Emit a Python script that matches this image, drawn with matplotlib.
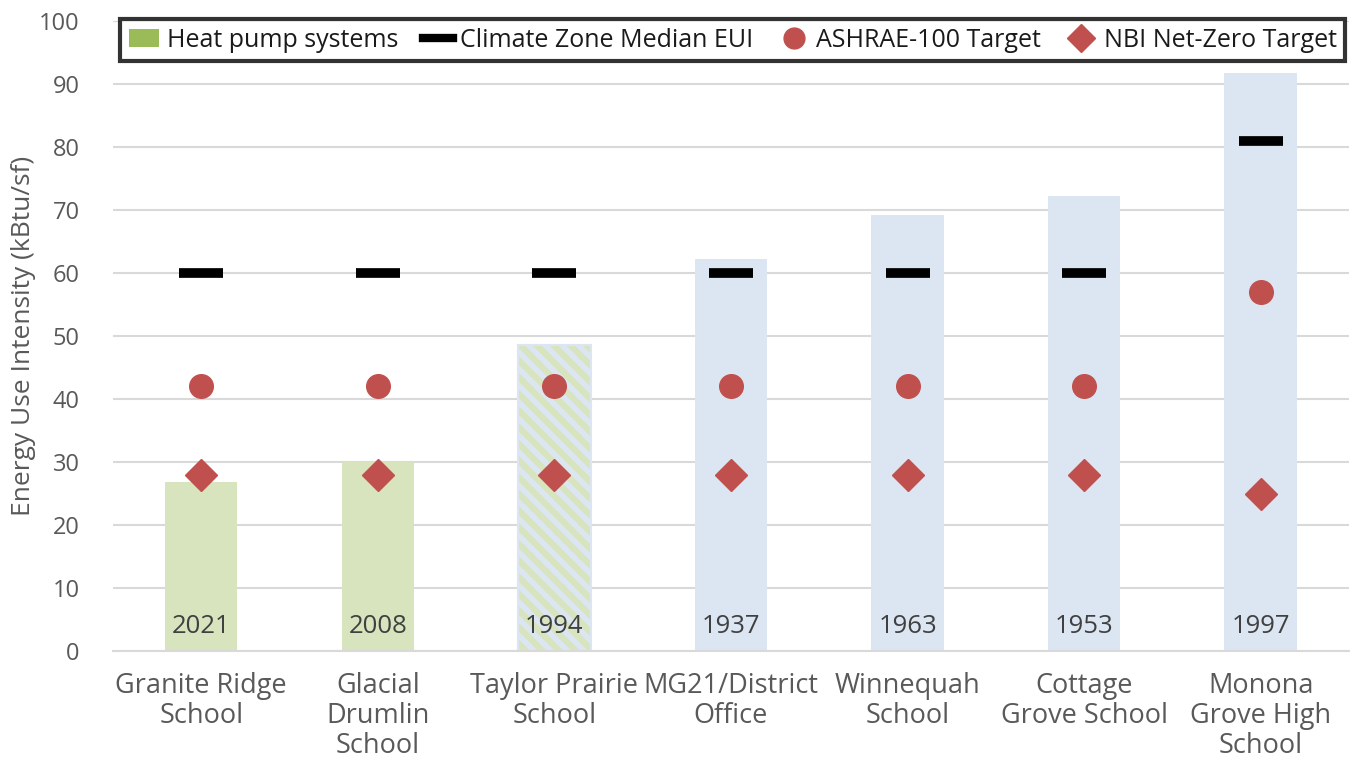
import matplotlib.pyplot as plt
import numpy as np
from matplotlib.patches import Patch
from matplotlib.lines import Line2D

plt.rcParams['font.family'] = ['Open Sans', 'DejaVu Sans']
plt.rcParams['hatch.linewidth'] = 4

schools = ["Granite Ridge\nSchool", "Glacial\nDrumlin\nSchool", "Taylor Prairie\nSchool",
           "MG21/District\nOffice", "Winnequah\nSchool", "Cottage\nGrove School",
           "Monona\nGrove High\nSchool"]
years = ["2021", "2008", "1994", "1937", "1963", "1953", "1997"]
eui = [26.8, 30.0, 48.6, 62.2, 69.2, 72.3, 91.7]
median_eui = [60, 60, 60, 60, 60, 60, 81]
ashrae = [42, 42, 42, 42, 42, 42, 57]
nbi = [28, 28, 28, 28, 28, 28, 25]
heat_pump = ["yes", "yes", "partial", "no", "no", "no", "no"]

green = '#d7e4bd'
blue = '#dce6f2'
red = '#c0504d'
grey = '#595959'

fig = plt.figure(figsize=(13.5, 7.59), dpi=100)
ax = fig.add_axes([0.0837, 0.1423, 0.9155, 0.83])

x = np.arange(len(schools))
for i in x:
    if heat_pump[i] == "yes":
        ax.bar(i, eui[i], width=0.41, color=green, zorder=2)
    elif heat_pump[i] == "partial":
        ax.bar(i, eui[i], width=0.41, facecolor=green, edgecolor=blue, hatch='\\\\', linewidth=1.5, zorder=2)
    else:
        ax.bar(i, eui[i], width=0.41, color=blue, zorder=2)
    ax.text(i, 3.9, years[i], ha='center', va='center', fontsize=18.5, color='#404040', zorder=3)

ax.plot(x, median_eui, ls='none', marker='_', ms=31, mew=7, color='black', zorder=4)
ax.plot(x, ashrae, ls='none', marker='o', ms=17, color=red, zorder=4)
ax.plot(x, nbi, ls='none', marker='D', ms=16, color=red, zorder=4)

ax.set_xlim(-0.5, len(schools) - 0.5)
ax.set_ylim(0, 100)
ax.set_yticks(range(0, 101, 10))
ax.set_xticks(x)
ax.set_xticklabels(schools, fontsize=19.5, color=grey, linespacing=1.1)
ax.tick_params(axis='y', labelsize=17, labelcolor=grey, length=0, pad=24)
ax.tick_params(axis='x', length=0, pad=15)
ax.grid(axis='y', color='#d9d9d9', lw=1.5, zorder=0)
for s in ['top', 'right', 'left']:
    ax.spines[s].set_visible(False)
ax.spines['bottom'].set_color('#d9d9d9')
ax.spines['bottom'].set_linewidth(1.5)
ax.set_ylabel("Energy Use Intensity (kBtu/sf)", fontsize=19, color=grey, labelpad=2)

handles = [
    Patch(facecolor='#9bbb59', label='Heat pump systems'),
    Line2D([], [], color='black', lw=6, label='Climate Zone Median EUI'),
    Line2D([], [], ls='none', marker='o', ms=15, color=red, label='ASHRAE-100 Target'),
    Line2D([], [], ls='none', marker='D', ms=14, color=red, label='NBI Net-Zero Target'),
]
leg = ax.legend(handles=handles, loc='center', ncol=4,
                bbox_to_anchor=(0.5015, 0.9698), fontsize=18,
                frameon=True, fancybox=False, handlelength=1.2, handletextpad=0.3,
                columnspacing=1.0, borderaxespad=0, borderpad=0.35)
leg.get_frame().set_edgecolor('black')
leg.get_frame().set_linewidth(3)
leg.set_zorder(5)
for t in leg.get_texts():
    t.set_color('#1a1a1a')

fig.savefig('out.png', dpi=100)
